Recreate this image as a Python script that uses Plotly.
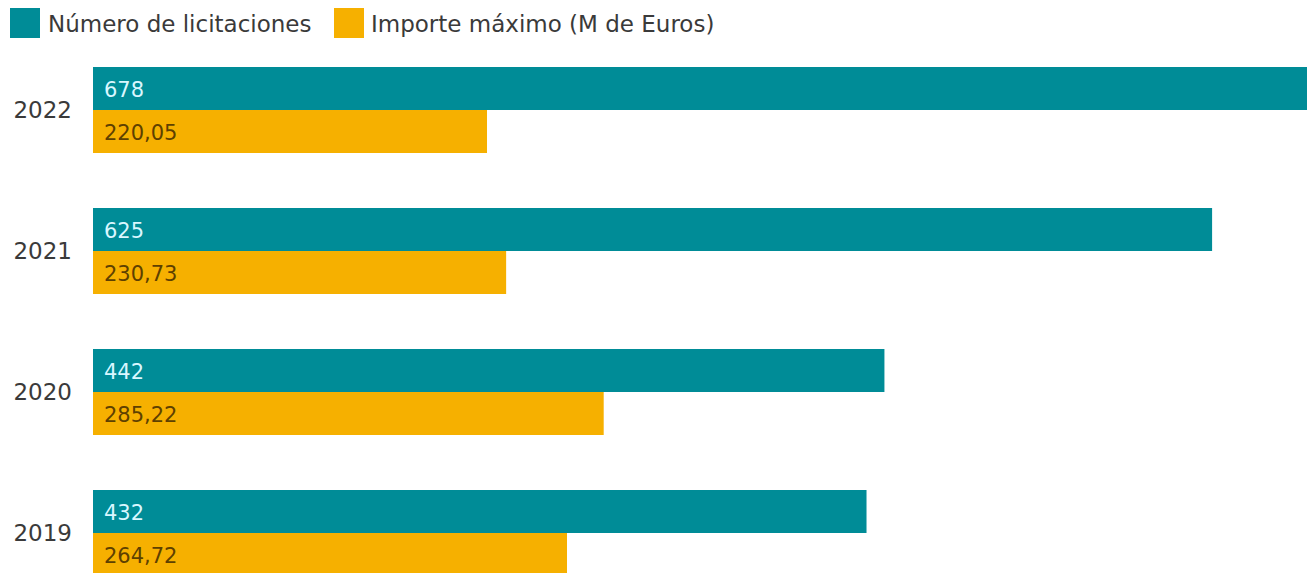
import plotly.graph_objects as go

# Licitaciones por año
years = ["2022", "2021", "2020", "2019"]
num_licitaciones = [678, 625, 442, 432]
importe_maximo = [220.05, 230.73, 285.22, 264.72]

series_names = ["Número de licitaciones", "Importe máximo (M de Euros)"]

TEAL = "#008c97"
ORANGE = "#f6b000"
FONT = "'DejaVu Sans', Roboto, sans-serif"
TEXT = "#3a3a3a"


def fmt_es(v, decimals):
    return f"{v:.{decimals}f}".replace(".", ",")


fig = go.Figure()
fig.add_trace(go.Bar(
    y=years, x=num_licitaciones, orientation="h", name=series_names[0],
    marker=dict(color=TEAL, line=dict(width=0)), showlegend=False,
    hoverinfo="x+y",
))
fig.add_trace(go.Bar(
    y=years, x=importe_maximo, orientation="h", name=series_names[1],
    marker=dict(color=ORANGE, line=dict(width=0)), showlegend=False,
    hoverinfo="x+y",
))

# value labels at the start of each bar (category axis -> position by index)
annotations = []
for i, (n, imp) in enumerate(zip(num_licitaciones, importe_maximo)):
    annotations.append(dict(
        x=0, y=i, xref="x", yref="y", text=str(n), showarrow=False,
        xanchor="left", yanchor="middle", xshift=9, yshift=20,
        font=dict(family=FONT, size=21, color="#d9f7ff"),
    ))
    annotations.append(dict(
        x=0, y=i, xref="x", yref="y", text=fmt_es(imp, 2), showarrow=False,
        xanchor="left", yanchor="middle", xshift=9, yshift=-23,
        font=dict(family=FONT, size=21, color="#5e4000"),
    ))

W, H = 1313, 573
L, R, T, B = 93, 6, 40, 0
pw, ph = W - L - R, H - T - B


def px_to_paper(px, py):
    return (px - L) / pw, (H - B - py) / ph


# legend drawn as swatches + labels
shapes = []
for (x0, x1), color in [((10, 40), TEAL), ((334, 364), ORANGE)]:
    a = px_to_paper(x0, 38)
    b = px_to_paper(x1, 8)
    shapes.append(dict(type="rect", xref="paper", yref="paper",
                       x0=a[0], y0=a[1], x1=b[0], y1=b[1],
                       line=dict(width=0), fillcolor=color, layer="above"))

for xpx, label in [(46, series_names[0]), (369, series_names[1])]:
    px, py = px_to_paper(xpx, 24)
    annotations.append(dict(
        x=px, y=py, xref="paper", yref="paper", text=label, showarrow=False,
        xanchor="left", yanchor="middle",
        font=dict(family=FONT, size=23, color=TEXT),
    ))

fig.update_layout(
    width=W, height=H,
    margin=dict(l=L, r=R, t=T, b=B, pad=0),
    paper_bgcolor="white", plot_bgcolor="white",
    barmode="group", bargap=0.39, bargroupgap=0,
    font=dict(family=FONT, size=23, color=TEXT),
    annotations=annotations, shapes=shapes,
    showlegend=False,
)
fig.update_xaxes(range=[0, 678], visible=False, fixedrange=True)
fig.update_yaxes(
    type="category", categoryorder="array", categoryarray=years,
    range=[3.284, -0.4965], showgrid=False, zeroline=False, showline=False,
    ticks="", ticklabelstandoff=20,
    tickfont=dict(family=FONT, size=23, color=TEXT),
)

fig.write_html("out.html")
